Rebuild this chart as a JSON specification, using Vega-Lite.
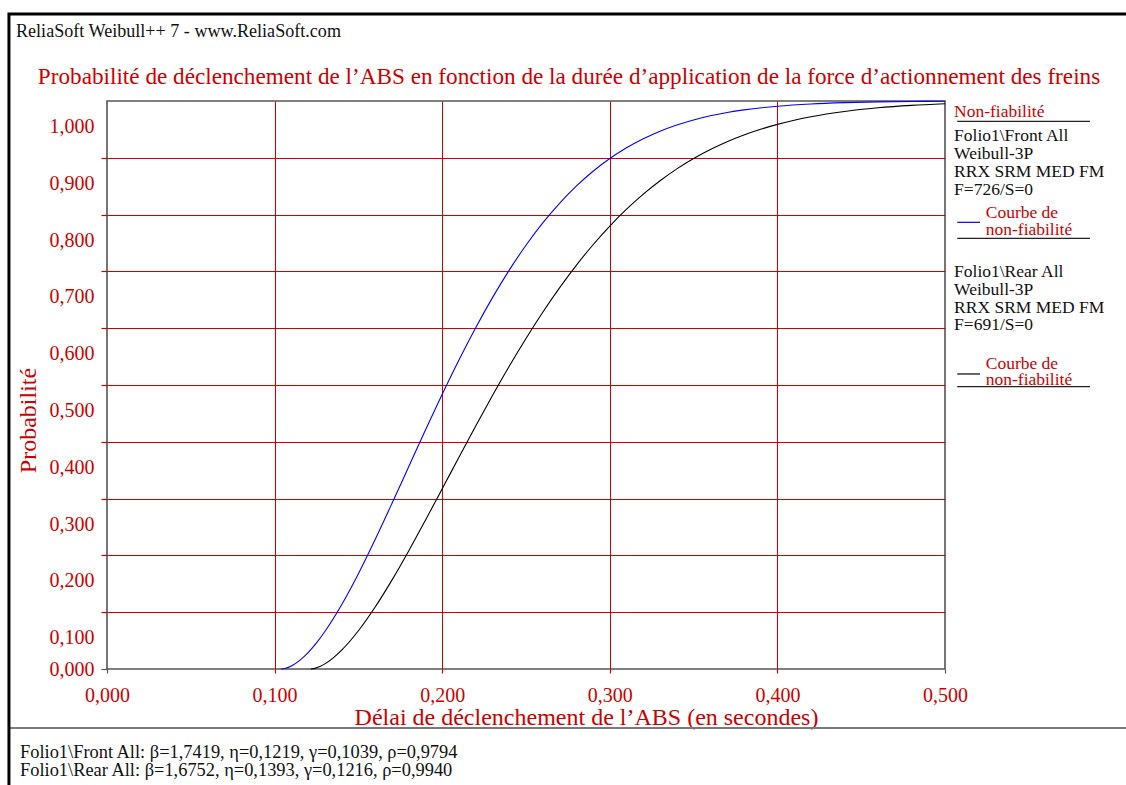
{
  "$schema": "https://vega.github.io/schema/vega-lite/v6.json",
  "width": 838,
  "height": 568,
  "autosize": {"type": "none"},
  "padding": {"left": 107, "top": 101, "right": 181, "bottom": 116},
  "background": "white",
  "config": {
    "font": "Liberation Serif",
    "view": {"stroke": "#555555", "strokeWidth": 1.6}
  },
  "title": {
    "text": "Probabilité de déclenchement de l’ABS en fonction de la durée d’application de la force d’actionnement des freins",
    "color": "#cc0000",
    "font": "Liberation Serif",
    "fontSize": 23.2,
    "fontWeight": "normal",
    "anchor": "middle",
    "frame": "group",
    "baseline": "alphabetic",
    "offset": -95,
    "dx": 43
  },
  "datasets": {
    "curves": [
      {"series": "Front", "t": 0.1039, "F": 0},
      {"series": "Front", "t": 0.106, "F": 0.00085},
      {"series": "Front", "t": 0.11, "F": 0.0054},
      {"series": "Front", "t": 0.115, "F": 0.0153},
      {"series": "Front", "t": 0.12, "F": 0.029},
      {"series": "Front", "t": 0.125, "F": 0.046},
      {"series": "Front", "t": 0.13, "F": 0.066},
      {"series": "Front", "t": 0.14, "F": 0.1132},
      {"series": "Front", "t": 0.15, "F": 0.1679},
      {"series": "Front", "t": 0.16, "F": 0.228},
      {"series": "Front", "t": 0.17, "F": 0.2913},
      {"series": "Front", "t": 0.18, "F": 0.356},
      {"series": "Front", "t": 0.19, "F": 0.4206},
      {"series": "Front", "t": 0.2, "F": 0.4836},
      {"series": "Front", "t": 0.21, "F": 0.544},
      {"series": "Front", "t": 0.22, "F": 0.6009},
      {"series": "Front", "t": 0.23, "F": 0.6538},
      {"series": "Front", "t": 0.24, "F": 0.7023},
      {"series": "Front", "t": 0.25, "F": 0.7461},
      {"series": "Front", "t": 0.26, "F": 0.7853},
      {"series": "Front", "t": 0.27, "F": 0.8199},
      {"series": "Front", "t": 0.28, "F": 0.8501},
      {"series": "Front", "t": 0.29, "F": 0.8763},
      {"series": "Front", "t": 0.3, "F": 0.8987},
      {"series": "Front", "t": 0.31, "F": 0.9176},
      {"series": "Front", "t": 0.32, "F": 0.9335},
      {"series": "Front", "t": 0.33, "F": 0.9468},
      {"series": "Front", "t": 0.34, "F": 0.9577},
      {"series": "Front", "t": 0.35, "F": 0.9666},
      {"series": "Front", "t": 0.36, "F": 0.9739},
      {"series": "Front", "t": 0.37, "F": 0.9797},
      {"series": "Front", "t": 0.38, "F": 0.9843},
      {"series": "Front", "t": 0.4, "F": 0.9908},
      {"series": "Front", "t": 0.42, "F": 0.9948},
      {"series": "Front", "t": 0.44, "F": 0.9971},
      {"series": "Front", "t": 0.46, "F": 0.9985},
      {"series": "Front", "t": 0.48, "F": 0.9992},
      {"series": "Front", "t": 0.5, "F": 0.9996},
      {"series": "Rear", "t": 0.1216, "F": 0},
      {"series": "Rear", "t": 0.124, "F": 0.0011},
      {"series": "Rear", "t": 0.127, "F": 0.0043},
      {"series": "Rear", "t": 0.13, "F": 0.009},
      {"series": "Rear", "t": 0.135, "F": 0.0196},
      {"series": "Rear", "t": 0.14, "F": 0.0331},
      {"series": "Rear", "t": 0.15, "F": 0.0673},
      {"series": "Rear", "t": 0.16, "F": 0.1091},
      {"series": "Rear", "t": 0.17, "F": 0.1565},
      {"series": "Rear", "t": 0.18, "F": 0.2079},
      {"series": "Rear", "t": 0.19, "F": 0.262},
      {"series": "Rear", "t": 0.2, "F": 0.3173},
      {"series": "Rear", "t": 0.21, "F": 0.373},
      {"series": "Rear", "t": 0.22, "F": 0.428},
      {"series": "Rear", "t": 0.23, "F": 0.4816},
      {"series": "Rear", "t": 0.24, "F": 0.5331},
      {"series": "Rear", "t": 0.25, "F": 0.582},
      {"series": "Rear", "t": 0.26, "F": 0.6281},
      {"series": "Rear", "t": 0.27, "F": 0.671},
      {"series": "Rear", "t": 0.28, "F": 0.7107},
      {"series": "Rear", "t": 0.29, "F": 0.7469},
      {"series": "Rear", "t": 0.3, "F": 0.7799},
      {"series": "Rear", "t": 0.31, "F": 0.8096},
      {"series": "Rear", "t": 0.32, "F": 0.8361},
      {"series": "Rear", "t": 0.33, "F": 0.8596},
      {"series": "Rear", "t": 0.34, "F": 0.8805},
      {"series": "Rear", "t": 0.35, "F": 0.8987},
      {"series": "Rear", "t": 0.36, "F": 0.9146},
      {"series": "Rear", "t": 0.37, "F": 0.9283},
      {"series": "Rear", "t": 0.38, "F": 0.9401},
      {"series": "Rear", "t": 0.39, "F": 0.9502},
      {"series": "Rear", "t": 0.4, "F": 0.9588},
      {"series": "Rear", "t": 0.42, "F": 0.9722},
      {"series": "Rear", "t": 0.44, "F": 0.9816},
      {"series": "Rear", "t": 0.46, "F": 0.988},
      {"series": "Rear", "t": 0.48, "F": 0.9923},
      {"series": "Rear", "t": 0.5, "F": 0.9952}
    ],
    "samples": [
      {"series": "Front", "t": 0.5073, "t2": 0.5209, "F": 0.7864},
      {"series": "Rear", "t": 0.5073, "t2": 0.5209, "F": 0.5194}
    ],
    "underlines": [
      {"t": 0.5073, "t2": 0.5865, "F": 0.9643},
      {"t": 0.5073, "t2": 0.5865, "F": 0.7583},
      {"t": 0.5073, "t2": 0.5865, "F": 0.497}
    ],
    "notes": [
      {"role": "legend-red", "t": 0.5054, "F": 0.9724, "text": "Non-fiabilité"},
      {"role": "legend-black", "t": 0.5054, "F": 0.9296, "text": "Folio1\\Front All"},
      {"role": "legend-black", "t": 0.5054, "F": 0.8974, "text": "Weibull-3P"},
      {"role": "legend-black", "t": 0.5054, "F": 0.8667, "text": "RRX SRM MED FM"},
      {"role": "legend-black", "t": 0.5054, "F": 0.8345, "text": "F=726/S=0"},
      {"role": "legend-red", "t": 0.5243, "F": 0.7935, "text": "Courbe de"},
      {"role": "legend-red", "t": 0.5243, "F": 0.7636, "text": "non-fiabilité"},
      {"role": "legend-black", "t": 0.5054, "F": 0.6907, "text": "Folio1\\Rear All"},
      {"role": "legend-black", "t": 0.5054, "F": 0.6579, "text": "Weibull-3P"},
      {"role": "legend-black", "t": 0.5054, "F": 0.6262, "text": "RRX SRM MED FM"},
      {"role": "legend-black", "t": 0.5054, "F": 0.5968, "text": "F=691/S=0"},
      {"role": "legend-red", "t": 0.5243, "F": 0.5287, "text": "Courbe de"},
      {"role": "legend-red", "t": 0.5243, "F": 0.4995, "text": "non-fiabilité"},
      {"role": "header", "t": -0.0543, "F": 1.1122, "text": "ReliaSoft Weibull++ 7 - www.ReliaSoft.com"},
      {"role": "footer", "t": -0.0519, "F": -0.1562, "text": "Folio1\\Front All: β=1,7419, η=0,1219, γ=0,1039, ρ=0,9794"},
      {"role": "footer", "t": -0.0519, "F": -0.1879, "text": "Folio1\\Rear All: β=1,6752, η=0,1393, γ=0,1216, ρ=0,9940"}
    ],
    "border": [
      {"t": -0.0585, "t2": 0.6164, "F": 1.1532, "F2": -0.2306}
    ],
    "separator": [
      {"t": -0.0585, "t2": 0.6164, "F": -0.1039}
    ]
  },
  "encoding": {
    "x": {
      "field": "t", "type": "quantitative",
      "scale": {"domain": [0, 0.5], "nice": false, "zero": false},
      "axis": {
        "values": [0, 0.1, 0.2, 0.3, 0.4, 0.5],
        "labelExpr": "replace(format(datum.value, '.3f'), '.', ',')",
        "labelColor": "#cc0000",
        "labelFont": "Liberation Serif",
        "labelFontSize": 20,
        "labelPadding": 12,
        "labelFlush": false,
        "labelOverlap": false,
        "domain": false,
        "grid": true,
        "gridWidth": 1,
        "gridColor": {"condition": {"test": "datum.value > 0.001 && datum.value < 0.499", "value": "#d00000"}, "value": "transparent"},
        "ticks": true,
        "tickSize": 4,
        "tickWidth": 1.2,
        "tickColor": {"condition": {"test": "datum.value > 0.001 && datum.value < 0.499", "value": "#d00000"}, "value": "#555555"},
        "title": "Délai de déclenchement de l’ABS (en secondes)",
        "titleColor": "#cc0000",
        "titleFont": "Liberation Serif",
        "titleFontSize": 24,
        "titleFontWeight": "normal",
        "titleX": 479,
        "titleY": 55,
        "titleAlign": "center",
        "titleBaseline": "alphabetic"
      }
    },
    "y": {
      "field": "F", "type": "quantitative",
      "scale": {"domain": [0, 1], "nice": false},
      "axis": {
        "values": [0, 0.055, 0.1, 0.155, 0.2, 0.255, 0.3, 0.355, 0.4, 0.455, 0.5, 0.555, 0.6, 0.655, 0.7, 0.755, 0.8, 0.855, 0.9, 0.955],
        "labelExpr": "datum.value == 0 ? '0,000' : (abs(datum.value*10 - round(datum.value*10)) > 0.2 ? replace(format(ceil(datum.value*10)/10, '.3f'), '.', ',') : '')",
        "labelColor": "#cc0000",
        "labelFont": "Liberation Serif",
        "labelFontSize": 20,
        "labelPadding": 7,
        "labelFlush": false,
        "labelOverlap": false,
        "labelBaseline": "middle",
        "domain": false,
        "grid": true,
        "gridWidth": 1,
        "gridColor": {"condition": {"test": "abs(datum.value*10 - round(datum.value*10)) < 0.01 && datum.value > 0.01", "value": "#d00000"}, "value": "transparent"},
        "ticks": true,
        "tickSize": 6,
        "tickWidth": 1.2,
        "tickColor": {"condition": {"test": "datum.value > 0.01", "value": "#d00000"}, "value": "#555555"},
        "tickOpacity": {"condition": {"test": "abs(datum.value*10 - round(datum.value*10)) < 0.01", "value": 1}, "value": 0},
        "title": "Probabilité",
        "titleColor": "#cc0000",
        "titleFont": "Liberation Serif",
        "titleFontSize": 24,
        "titleFontWeight": "normal",
        "titleAngle": 270,
        "titleX": -72,
        "titleY": 319,
        "titleAlign": "center",
        "titleBaseline": "alphabetic"
      }
    }
  },
  "layer": [
    {
      "data": {"name": "curves"},
      "mark": {"type": "line", "interpolate": "monotone", "strokeWidth": 1.1, "clip": false},
      "encoding": {
        "color": {
          "field": "series", "type": "nominal",
          "scale": {"domain": ["Front", "Rear"], "range": ["#0000ff", "#000000"]},
          "legend": null
        }
      }
    },
    {
      "data": {"name": "samples"},
      "mark": {"type": "rule", "strokeWidth": 1.2, "clip": false},
      "encoding": {
        "x2": {"field": "t2"},
        "color": {"field": "series", "type": "nominal", "scale": {"domain": ["Front", "Rear"], "range": ["#0000ff", "#000000"]}, "legend": null}
      }
    },
    {
      "data": {"name": "underlines"},
      "mark": {"type": "rule", "strokeWidth": 1.3, "color": "#222222", "clip": false},
      "encoding": {
        "x2": {"field": "t2"}
      }
    },
    {
      "data": {"name": "notes"},
      "transform": [{"filter": "datum.role == 'legend-red'"}],
      "mark": {"type": "text", "align": "left", "baseline": "alphabetic", "fontSize": 17.5, "color": "#cc0000", "font": "Liberation Serif", "clip": false},
      "encoding": {
        "text": {"field": "text"}
      }
    },
    {
      "data": {"name": "notes"},
      "transform": [{"filter": "datum.role == 'legend-black'"}],
      "mark": {"type": "text", "align": "left", "baseline": "alphabetic", "fontSize": 17.5, "color": "#111111", "font": "Liberation Serif", "clip": false},
      "encoding": {
        "text": {"field": "text"}
      }
    },
    {
      "data": {"name": "notes"},
      "transform": [{"filter": "datum.role == 'header'"}],
      "mark": {"type": "text", "align": "left", "baseline": "alphabetic", "fontSize": 18.1, "color": "#111111", "font": "Liberation Serif", "clip": false},
      "encoding": {
        "text": {"field": "text"}
      }
    },
    {
      "data": {"name": "notes"},
      "transform": [{"filter": "datum.role == 'footer'"}],
      "mark": {"type": "text", "align": "left", "baseline": "alphabetic", "fontSize": 18.4, "color": "#111111", "font": "Liberation Serif", "clip": false},
      "encoding": {
        "text": {"field": "text"}
      }
    },
    {
      "data": {"name": "separator"},
      "mark": {"type": "rule", "strokeWidth": 2, "color": "#7a7a7a", "clip": false},
      "encoding": {
        "x2": {"field": "t2"}
      }
    },
    {
      "data": {"name": "border"},
      "mark": {"type": "rect", "filled": false, "stroke": "#000000", "strokeWidth": 3, "clip": false},
      "encoding": {
        "x2": {"field": "t2"},
        "y2": {"field": "F2"}
      }
    }
  ]
}
